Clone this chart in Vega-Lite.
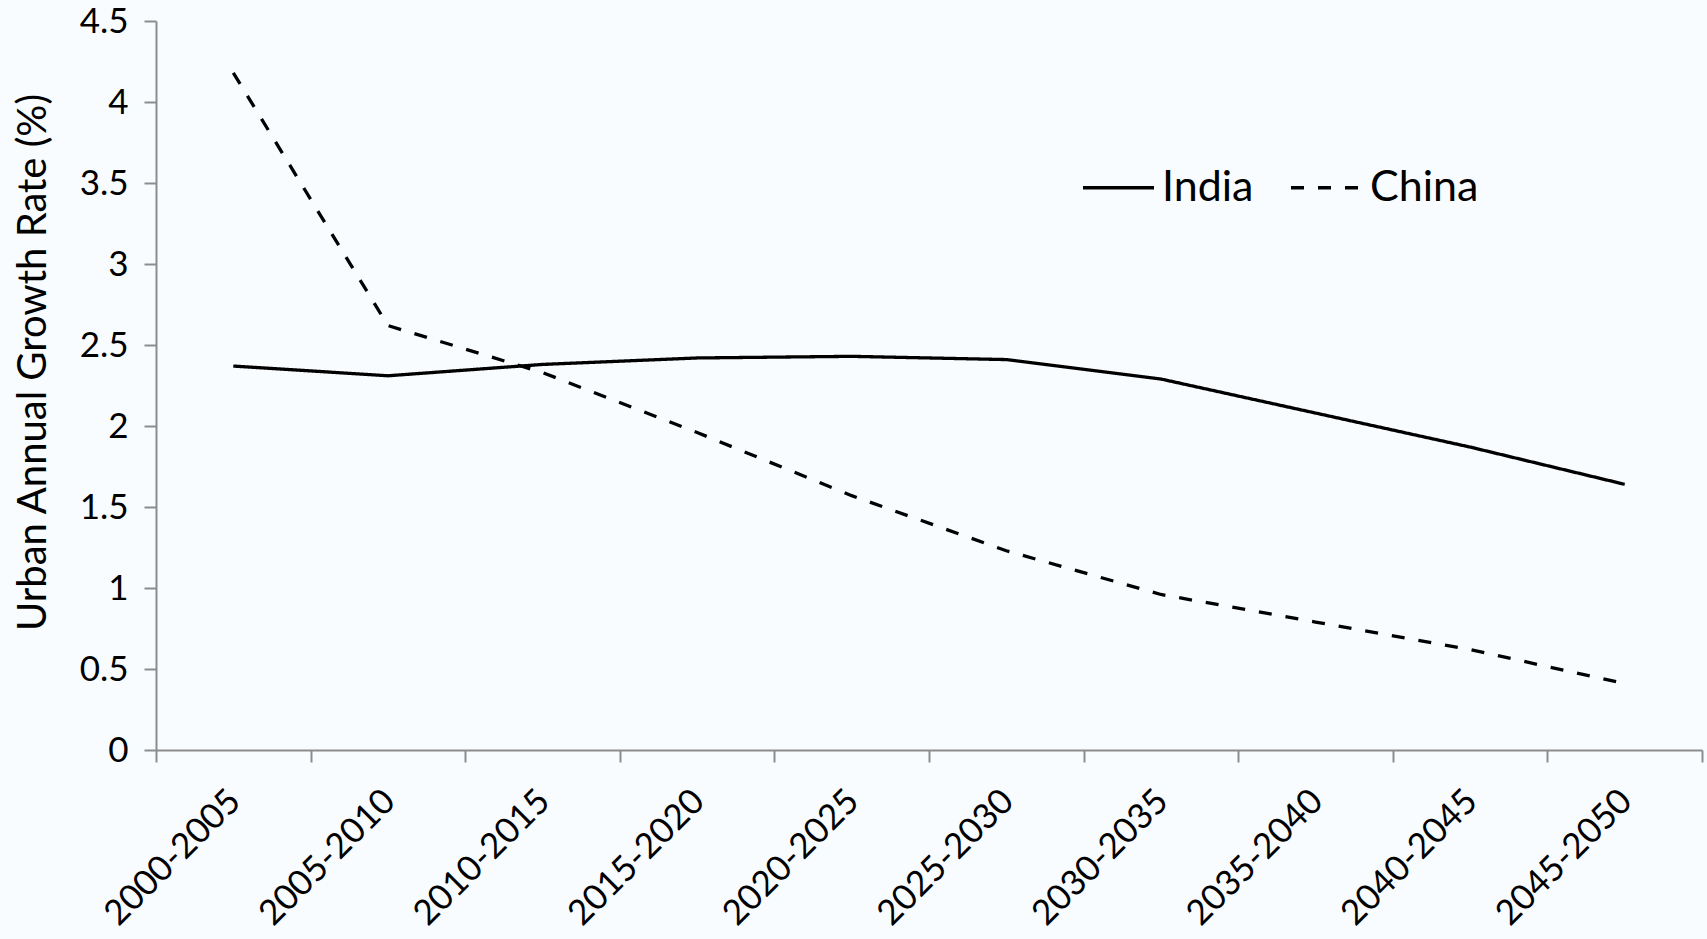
{
  "$schema": "https://vega.github.io/schema/vega-lite/v6.json",
  "width": 1546,
  "height": 729,
  "autosize": {"type": "none"},
  "padding": {"left": 156, "top": 21, "right": 5, "bottom": 189},
  "background": "#f9fcfe",
  "config": {
    "view": {"stroke": null},
    "font": "Lato",
    "axis": {"grid": false, "domainColor": "#8c8c8c", "domainWidth": 2, "tickColor": "#8c8c8c", "tickWidth": 2, "tickSize": 12, "labelColor": "#000000", "labelFont": "Lato", "titleFont": "Lato", "titleColor": "#000000", "titleFontWeight": "normal", "labelLimit": 0}
  },
  "data": {
    "values": [
      {"period": "2000-2005", "country": "India", "rate": 2.37},
      {"period": "2005-2010", "country": "India", "rate": 2.31},
      {"period": "2010-2015", "country": "India", "rate": 2.38},
      {"period": "2015-2020", "country": "India", "rate": 2.42},
      {"period": "2020-2025", "country": "India", "rate": 2.43},
      {"period": "2025-2030", "country": "India", "rate": 2.41},
      {"period": "2030-2035", "country": "India", "rate": 2.29},
      {"period": "2035-2040", "country": "India", "rate": 2.08},
      {"period": "2040-2045", "country": "India", "rate": 1.87},
      {"period": "2045-2050", "country": "India", "rate": 1.64},
      {"period": "2000-2005", "country": "China", "rate": 4.18},
      {"period": "2005-2010", "country": "China", "rate": 2.62},
      {"period": "2010-2015", "country": "China", "rate": 2.33},
      {"period": "2015-2020", "country": "China", "rate": 1.96},
      {"period": "2020-2025", "country": "China", "rate": 1.57},
      {"period": "2025-2030", "country": "China", "rate": 1.23},
      {"period": "2030-2035", "country": "China", "rate": 0.96},
      {"period": "2035-2040", "country": "China", "rate": 0.79},
      {"period": "2040-2045", "country": "China", "rate": 0.62},
      {"period": "2045-2050", "country": "China", "rate": 0.41}
    ]
  },
  "mark": {"type": "line", "color": "#000000", "strokeWidth": 3.3},
  "encoding": {
    "x": {
      "field": "period",
      "type": "ordinal",
      "sort": null,
      "bandPosition": 0.5,
      "scale": {"type": "band", "paddingInner": 0, "paddingOuter": 0},
      "axis": {"title": null, "tickBand": "extent", "labelAngle": -45, "labelAlign": "right", "labelBaseline": "middle", "labelFontSize": 35, "labelPadding": 33, "labelOffset": 1, "labelLimit": 0}
    },
    "y": {
      "field": "rate",
      "type": "quantitative",
      "scale": {"domain": [0, 4.5], "nice": false, "zero": true},
      "axis": {"title": "Urban Annual Growth Rate (%)", "values": [0, 0.5, 1, 1.5, 2, 2.5, 3, 3.5, 4, 4.5], "format": ".2~f", "labelFontSize": 35, "labelPadding": 16, "titleFontSize": 40, "titleX": -111, "titleY": 341, "titleBaseline": "alphabetic"}
    },
    "strokeDash": {
      "field": "country",
      "type": "nominal",
      "scale": {"domain": ["India", "China"], "range": [[1, 0], [13, 14]]},
      "legend": {"title": null, "orient": "none", "direction": "horizontal", "legendX": 925, "legendY": 129, "padding": 0, "symbolType": "stroke", "symbolSize": 5041, "symbolStrokeWidth": 3.3, "symbolStrokeColor": "#000000", "labelFontSize": 43, "labelColor": "#000000", "labelOffset": 6, "columnPadding": 30}
    }
  }
}
